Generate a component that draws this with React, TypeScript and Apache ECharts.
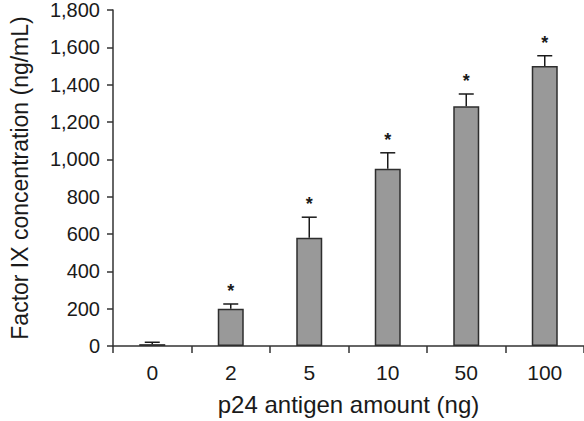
import React, { useEffect, useRef } from "react";
import * as echarts from "echarts";

// p24 antigen amount (ng) on the x axis
const categories = ["0", "2", "5", "10", "50", "100"];
// mean Factor IX concentration (ng/mL)
const means = [10, 200, 580, 950, 1285, 1500];
// upper error (SD) on each bar
const errors = [10, 25, 110, 85, 65, 55];
// significance markers drawn above the error bars
const marks = ["", "*", "*", "*", "*", "*"];

const yTicks = { min: 0, max: 1800, interval: 200 };

const FONT = "'Liberation Sans', Arial, Helvetica, sans-serif";
const INK = "#1a1a1a";

export default function App() {
  const ref = useRef<HTMLDivElement>(null);

  useEffect(() => {
    if (!ref.current) return;
    document.body.style.margin = "0";
    const chart = echarts.init(ref.current, null, { renderer: "svg" });

    const errorData = categories.map((c, i) => [i, means[i], means[i] + errors[i], marks[i]]);

    chart.setOption({
      animation: false,
      backgroundColor: "#ffffff",
      grid: { left: 110, right: 0, top: 10, bottom: 72, containLabel: false },
      xAxis: {
        type: "category",
        data: categories,
        boundaryGap: true,
        name: "p24 antigen amount (ng)",
        nameLocation: "middle",
        nameGap: 46,
        nameTextStyle: { fontFamily: FONT, fontSize: 24, color: INK },
        axisLine: { lineStyle: { color: "#333", width: 1.5 } },
        axisTick: { show: true, length: 7, alignWithLabel: false, lineStyle: { color: "#333", width: 1.5 } },
        axisLabel: { fontFamily: FONT, fontSize: 21, color: INK, margin: 16 },
        splitLine: { show: false },
      },
      yAxis: {
        type: "value",
        min: yTicks.min,
        max: yTicks.max,
        interval: yTicks.interval,
        name: "Factor IX concentration (ng/mL)",
        nameLocation: "middle",
        nameGap: 82,
        nameTextStyle: { fontFamily: FONT, fontSize: 23, color: INK },
        axisLine: { show: true, lineStyle: { color: "#333", width: 1.5 } },
        axisTick: { show: true, length: 6, lineStyle: { color: "#333", width: 1.5 } },
        axisLabel: {
          fontFamily: FONT,
          fontSize: 20,
          color: INK,
          margin: 13,
          formatter: (v: number) => v.toLocaleString("en-US"),
        },
        splitLine: { show: false },
      },
      series: [
        {
          type: "bar",
          data: means,
          barWidth: 26,
          itemStyle: { color: "#999999", borderColor: "#2e2e2e", borderWidth: 1.5 },
          z: 2,
        },
        {
          type: "custom",
          data: errorData,
          z: 3,
          renderItem: (params: any, api: any) => {
            const i = api.value(0);
            const base = api.coord([i, api.value(1)]);
            const top = api.coord([i, api.value(2)]);
            const mark = marks[params.dataIndex];
            const x = base[0];
            const capHalf = 7.5;
            const children: any[] = [
              {
                type: "line",
                shape: { x1: x, y1: base[1], x2: x, y2: top[1] },
                style: { stroke: INK, lineWidth: 1.5 },
              },
              {
                type: "line",
                shape: { x1: x - capHalf, y1: top[1], x2: x + capHalf, y2: top[1] },
                style: { stroke: INK, lineWidth: 1.5 },
              },
            ];
            if (mark) {
              children.push({
                type: "text",
                x: x,
                y: top[1] - 4,
                style: {
                  text: mark,
                  fontFamily: FONT,
                  fontSize: 18,
                  fontWeight: "bold",
                  fill: INK,
                  align: "center",
                  verticalAlign: "bottom",
                },
              });
            }
            return { type: "group", children };
          },
        },
      ],
    });

    return () => chart.dispose();
  }, []);

  return <div ref={ref} style={{ width: 584, height: 421 }} />;
}
